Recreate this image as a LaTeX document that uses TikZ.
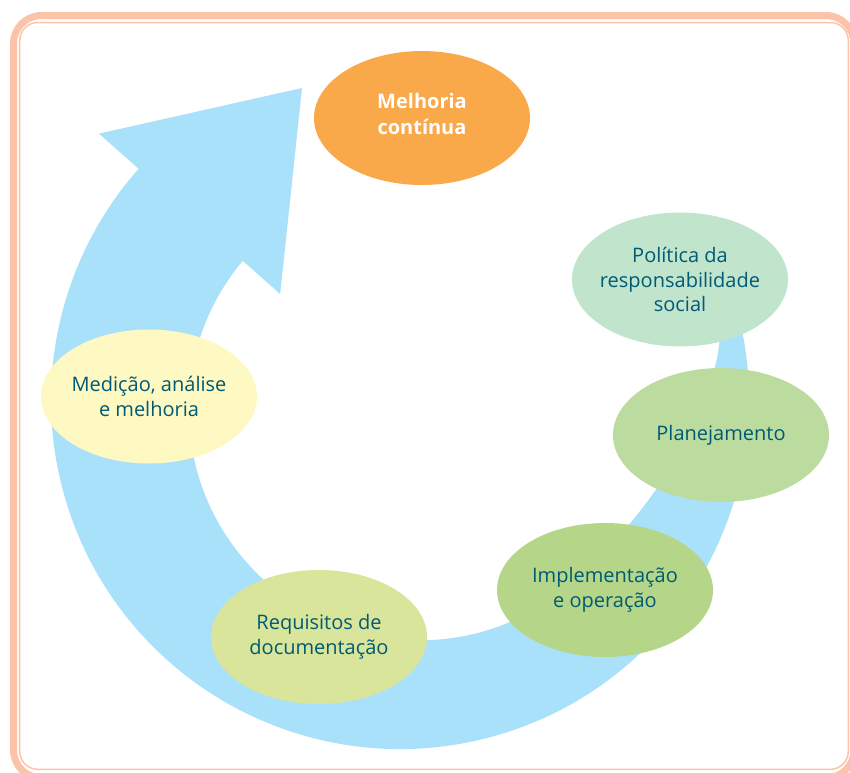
\documentclass[tikz,border=0pt]{standalone}
\usepackage{fontspec}
\setmainfont{Open Sans}
\usetikzlibrary{shapes.geometric}
\definecolor{arrowblue}{HTML}{AAE1FA}
\definecolor{framec}{HTML}{FBC4A9}
\definecolor{tealtext}{HTML}{005A73}
\definecolor{orangec}{HTML}{F9A84A}
\definecolor{mintc}{HTML}{C1E4CD}
\definecolor{planc}{HTML}{BBDC9E}
\definecolor{implc}{HTML}{B5D689}
\definecolor{reqc}{HTML}{D8E59A}
\definecolor{medc}{HTML}{FEF9C3}
\begin{document}
\begin{tikzpicture}[x=1pt,y=1pt,
  bubble/.style={ellipse, minimum width=216pt, minimum height=134pt, inner sep=0pt, outer sep=0pt},
  lbl/.style={text=tealtext, align=center, inner sep=0pt, font=\fontsize{20}{24.5}\selectfont},
  boldlbl/.style={text=white, align=center, inner sep=0pt, font=\fontsize{20}{26}\selectfont\bfseries}]
\useasboundingbox (0,0) rectangle (850,-772);
% frame
\draw[line width=7pt, framec, rounded corners=28pt] (13.5,-15.5) rectangle (854,-778);
\draw[line width=1.5pt, framec, rounded corners=18pt] (19.7,-22.5) rectangle (848.3,-769.3);
% circular arrow
\begin{scope}[shift={(400,-400)}]
\fill[arrowblue] (15:349) arc[start angle=15, end angle=-221.5, radius=349pt]
  -- (138.5:402) -- (-98,312) -- (138.5:160) -- (138.5:210)
  arc[start angle=140, end angle=310, radius=231pt]
  .. controls (220,-143) and (305,-45) .. (319,54) -- (322,87) -- cycle;
\end{scope}
% bubbles
\node[bubble, fill=orangec, label={[boldlbl, yshift=4pt]center:{Melhoria\\contínua}}] (mc) at (422,-118) {};
\node[bubble, fill=mintc, label={[lbl]center:{Política da\\responsabilidade\\social}}] (pol) at (680,-279.5) {};
\node[bubble, fill=planc, label={[lbl]center:{Planejamento}}] (plan) at (721,-435) {};
\node[bubble, fill=implc, label={[lbl]center:{Implementação\\e operação}}] (impl) at (605,-590) {};
\node[bubble, fill=reqc, label={[lbl]center:{Requisitos de\\documentação}}] (req) at (319,-637) {};
\node[bubble, fill=medc, label={[lbl]center:{Medição, análise\\e melhoria}}] (med) at (149,-396.5) {};
\end{tikzpicture}
\end{document}
